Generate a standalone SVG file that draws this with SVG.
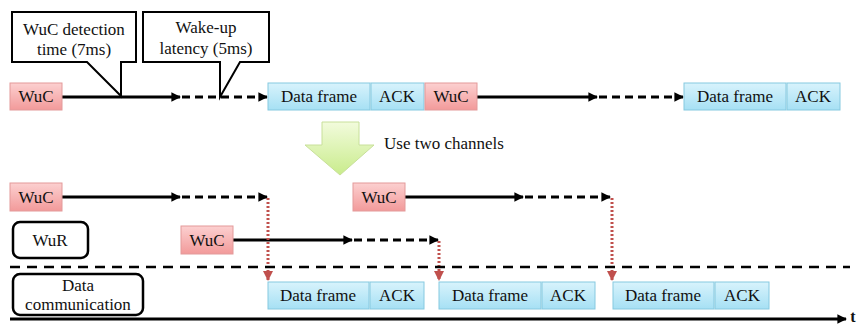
<svg xmlns="http://www.w3.org/2000/svg" width="861" height="327" viewBox="0 0 861 327">
<defs>
<linearGradient id="gRed" x1="0" y1="0" x2="0" y2="1"><stop offset="0" stop-color="#fcd0d0"/><stop offset="1" stop-color="#f29a9a"/></linearGradient>
<linearGradient id="gBlue" x1="0" y1="0" x2="0" y2="1"><stop offset="0" stop-color="#d8f3fc"/><stop offset="1" stop-color="#a6e0f4"/></linearGradient>
<linearGradient id="gGreen" x1="0" y1="0" x2="0" y2="1"><stop offset="0" stop-color="#f2fbdc"/><stop offset="1" stop-color="#c9ec8c"/></linearGradient>
<marker id="ah" viewBox="0 0 10 10" refX="9" refY="5" markerWidth="3.2" markerHeight="3.2" orient="auto" markerUnits="strokeWidth"><path d="M0,0 L10,5 L0,10 Z" fill="#000"/></marker>
<marker id="ahr" viewBox="0 0 10 10" refX="9" refY="5" markerWidth="3.4" markerHeight="3.4" orient="auto" markerUnits="strokeWidth"><path d="M0,0 L10,5 L0,10 Z" fill="#c0504d"/></marker>
</defs>
<style>
.t{font-family:"Liberation Serif","Tinos","Nimbus Roman","FreeSerif","Noto Serif","DejaVu Serif","Times New Roman",serif;font-size:17px;fill:#111;text-anchor:middle}
.wuc{fill:url(#gRed);stroke:#e39a9a;stroke-width:1}
.df{fill:url(#gBlue);stroke:#86c9e0;stroke-width:1}
.solid{stroke:#000;stroke-width:3;fill:none}
.dash{stroke:#000;stroke-width:3;fill:none;stroke-dasharray:8 5}
.red{stroke:#c0504d;stroke-width:3;fill:none;stroke-dasharray:2 2}
.sep{stroke:#000;stroke-width:2.5;fill:none;stroke-dasharray:10 7}
.lbl{fill:#fff;stroke:#000;stroke-width:2.5}
.call{fill:#fff;stroke:#000;stroke-width:2;stroke-linejoin:miter}
</style>
<rect width="861" height="327" fill="#fff"/>

<g id="connectors">
<line class="solid" x1="62" y1="97" x2="180" y2="97" marker-end="url(#ah)"/>
<line class="dash" x1="182" y1="97" x2="267" y2="97" marker-end="url(#ah)"/>
<line class="solid" x1="477" y1="97" x2="597" y2="97" marker-end="url(#ah)"/>
<line class="dash" x1="599" y1="97" x2="683" y2="97" marker-end="url(#ah)"/>

<line class="solid" x1="62" y1="197" x2="180" y2="197" marker-end="url(#ah)"/>
<line class="dash" x1="182" y1="197" x2="267" y2="197" marker-end="url(#ah)"/>
<line class="solid" x1="233" y1="240" x2="352" y2="240" marker-end="url(#ah)"/>
<line class="dash" x1="354" y1="240" x2="438" y2="240" marker-end="url(#ah)"/>
<line class="solid" x1="405" y1="197" x2="523" y2="197" marker-end="url(#ah)"/>
<line class="dash" x1="525" y1="197" x2="610" y2="197" marker-end="url(#ah)"/>

<line class="red" x1="268" y1="198" x2="268" y2="280" marker-end="url(#ahr)"/>
<line class="red" x1="439" y1="241" x2="439" y2="280" marker-end="url(#ahr)"/>
<line class="red" x1="612" y1="198" x2="612" y2="280" marker-end="url(#ahr)"/>

<line class="sep" x1="10" y1="267" x2="850" y2="267"/>
<line class="solid" x1="10" y1="319" x2="846" y2="319" marker-end="url(#ah)"/>
</g>

<g id="callout1">
<path class="call" d="M12,12 H136 V62 H121 V96 L87,62 H12 Z"/>
<text class="t" x="74" y="35">WuC detection</text>
<text class="t" x="74" y="55">time (7ms)</text>
</g>
<g id="callout2">
<path class="call" d="M143,12 H269 V62 H240 L220,97 V62 H143 Z"/>
<text class="t" x="206" y="33">Wake-up</text>
<text class="t" x="206" y="54">latency (5ms)</text>
</g>

<g id="top-wuc1"><rect class="wuc" x="10" y="83" width="52" height="27"/><text class="t" x="36" y="102">WuC</text></g>
<g id="top-df1"><rect class="df" x="268" y="83" width="102" height="27"/><text class="t" x="319" y="102">Data frame</text></g>
<g id="top-ack1"><rect class="df" x="371" y="83" width="53" height="27"/><text class="t" x="397" y="102">ACK</text></g>
<g id="top-wuc2"><rect class="wuc" x="425" y="83" width="52" height="27"/><text class="t" x="451" y="102">WuC</text></g>
<g id="top-df2"><rect class="df" x="684" y="83" width="102" height="27"/><text class="t" x="735" y="102">Data frame</text></g>
<g id="top-ack2"><rect class="df" x="787" y="83" width="53" height="27"/><text class="t" x="813" y="102">ACK</text></g>

<g id="green-arrow">
<path d="M322,122 H359 V145 H374 L340,175 L305,145 H322 Z" fill="url(#gGreen)" stroke="#c8e09a" stroke-width="1"/>
<text class="t" x="444" y="149">Use two channels</text>
</g>

<g id="wur-label"><rect class="lbl" x="13" y="222" width="75" height="36" rx="7"/><text class="t" x="50" y="246">WuR</text></g>
<g id="data-label"><rect class="lbl" x="13" y="274" width="130" height="41" rx="7"/><text class="t" x="78" y="291">Data</text><text class="t" x="78" y="310">communication</text></g>

<g id="b-wuc1"><rect class="wuc" x="10" y="183" width="52" height="28"/><text class="t" x="36" y="203">WuC</text></g>
<g id="b-wuc2"><rect class="wuc" x="181" y="226" width="52" height="28"/><text class="t" x="207" y="246">WuC</text></g>
<g id="b-wuc3"><rect class="wuc" x="353" y="183" width="52" height="28"/><text class="t" x="379" y="203">WuC</text></g>

<g id="b-df1"><rect class="df" x="268" y="282" width="101" height="27"/><text class="t" x="318" y="301">Data frame</text></g>
<g id="b-ack1"><rect class="df" x="370" y="282" width="54" height="27"/><text class="t" x="397" y="301">ACK</text></g>
<g id="b-df2"><rect class="df" x="439" y="282" width="102" height="27"/><text class="t" x="490" y="301">Data frame</text></g>
<g id="b-ack2"><rect class="df" x="542" y="282" width="53" height="27"/><text class="t" x="568" y="301">ACK</text></g>
<g id="b-df3"><rect class="df" x="613" y="282" width="101" height="27"/><text class="t" x="663" y="301">Data frame</text></g>
<g id="b-ack3"><rect class="df" x="715" y="282" width="54" height="27"/><text class="t" x="742" y="301">ACK</text></g>

<g id="axis-label"><text class="t" x="853" y="322" style="font-size:16px;font-weight:bold">t</text></g>
</svg>
